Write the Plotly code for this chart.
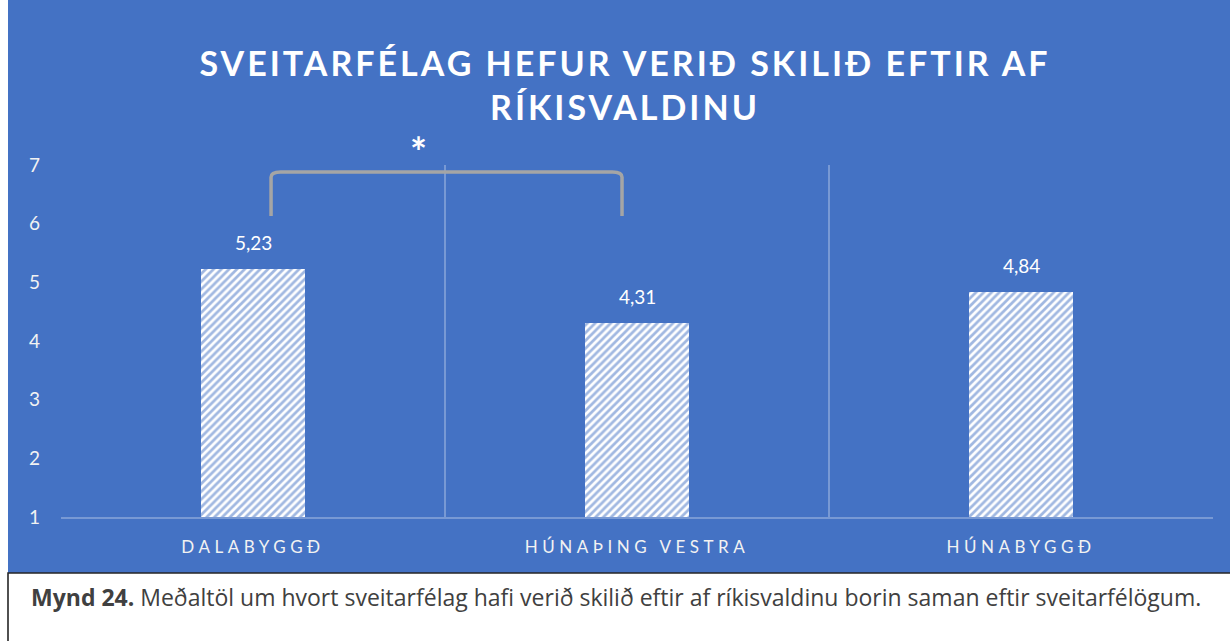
import plotly.graph_objects as go

categories = ["DALABYGGÐ", "HÚNAÞING VESTRA", "HÚNABYGGÐ"]
values = [5.23, 4.31, 4.84]
y_ticks = [1, 2, 3, 4, 5, 6, 7]
title_text = "SVEITARFÉLAG HEFUR VERIÐ SKILIÐ EFTIR AF<br>RÍKISVALDINU"
caption_text = ("<b>Mynd 24.</b> Meðaltöl um hvort sveitarfélag hafi verið skilið eftir af "
                "ríkisvaldinu borin saman eftir sveitarfélögum.")

BLUE = "#4472C4"
GRID = "rgba(255,255,255,0.28)"
FONT = "Lato"
W, H = 1230, 641
L, R, T, B = 61, 17, 165, 124
PW, PH = W - L - R, H - T - B


def px_x(p):
    return (p - L) / PW


def px_y(p):
    return (H - B - p) / PH


xs = list(range(len(categories)))

fig = go.Figure()
fig.add_trace(go.Bar(
    x=xs, y=[v - 1 for v in values], base=1, width=0.27,
    marker=dict(color="white", line=dict(width=0),
                pattern=dict(shape="/", fgcolor=BLUE, bgcolor="white",
                             size=5.5, solidity=0.5, fillmode="overlay")),
    hoverinfo="skip", showlegend=False,
))

for x, v in zip(xs, values):
    fig.add_annotation(x=x, y=v, text=f"{v:.2f}".replace(".", ","), showarrow=False,
                       yanchor="bottom", yshift=13,
                       font=dict(family=FONT, size=19, color="white"))

# significance bracket between first two categories
bx0, bx1 = 0.047, 0.961
by0, by1 = 6.13, 6.88
fig.add_shape(type="path", xref="x", yref="y",
              path=(f"M {bx0},{by0} L {bx0},{by1 - 0.09} Q {bx0},{by1} {bx0 + 0.025},{by1} "
                    f"L {bx1 - 0.025},{by1} Q {bx1},{by1} {bx1},{by1 - 0.09} L {bx1},{by0}"),
              line=dict(color="#A5A5A5", width=3.5))
fig.add_annotation(xref="paper", yref="paper", x=px_x(418), y=px_y(152), text="<b>*</b>",
                   showarrow=False, xanchor="center", yanchor="middle",
                   font=dict(family=FONT, size=40, color="white"))

# backgrounds
fig.add_shape(type="rect", xref="paper", yref="paper", layer="below",
              x0=px_x(8), x1=px_x(W + 20), y0=px_y(573), y1=px_y(-20),
              fillcolor=BLUE, line=dict(width=0))
fig.add_shape(type="rect", xref="paper", yref="paper", layer="below",
              x0=px_x(8), x1=px_x(W + 20), y0=px_y(H + 20), y1=px_y(573),
              fillcolor="white", line=dict(color="#262626", width=1.6))
fig.add_annotation(xref="paper", yref="paper", x=px_x(29), y=px_y(597),
                   xanchor="left", yanchor="middle", showarrow=False, text=caption_text,
                   font=dict(family="Open Sans", size=23, color="#404040"))

fig.update_layout(
    width=W, height=H,
    margin=dict(l=L, r=R, t=T, b=B),
    paper_bgcolor="white", plot_bgcolor="rgba(0,0,0,0)",
    title=dict(text=f"<b>{title_text}</b>", xref="container", yref="container",
               x=625 / W, y=1 - 76 / H, xanchor="center", yanchor="middle",
               font=dict(family=FONT, size=34, color="white")),
    xaxis=dict(range=[-0.5, 2.5], tickvals=xs, ticktext=categories,
               showgrid=False, zeroline=False, showline=True, linecolor=GRID, linewidth=1.5,
               ticks="", ticklabelstandoff=14,
               tickfont=dict(family=FONT, size=17, color="#F2F2F2"),
               minor=dict(tickvals=[-0.5, 0.5, 1.5, 2.5], showgrid=True,
                          gridcolor=GRID, gridwidth=1.5, ticks="")),
    yaxis=dict(range=[1, 7], tickvals=y_ticks, showgrid=False, zeroline=False,
               showline=False, ticks="", ticklabelstandoff=20,
               tickfont=dict(family=FONT, size=19, color="#F2F2F2")),
    bargap=0,
)

post = ("document.body.style.margin='0';document.body.style.overflow='hidden';"
        "var s=document.createElement('style');"
        "s.textContent='.gtitle{letter-spacing:3px} .xtick text{letter-spacing:4.5px}';"
        "document.head.appendChild(s);")
fig.write_html("out.html", post_script=post, config={"displayModeBar": False})
